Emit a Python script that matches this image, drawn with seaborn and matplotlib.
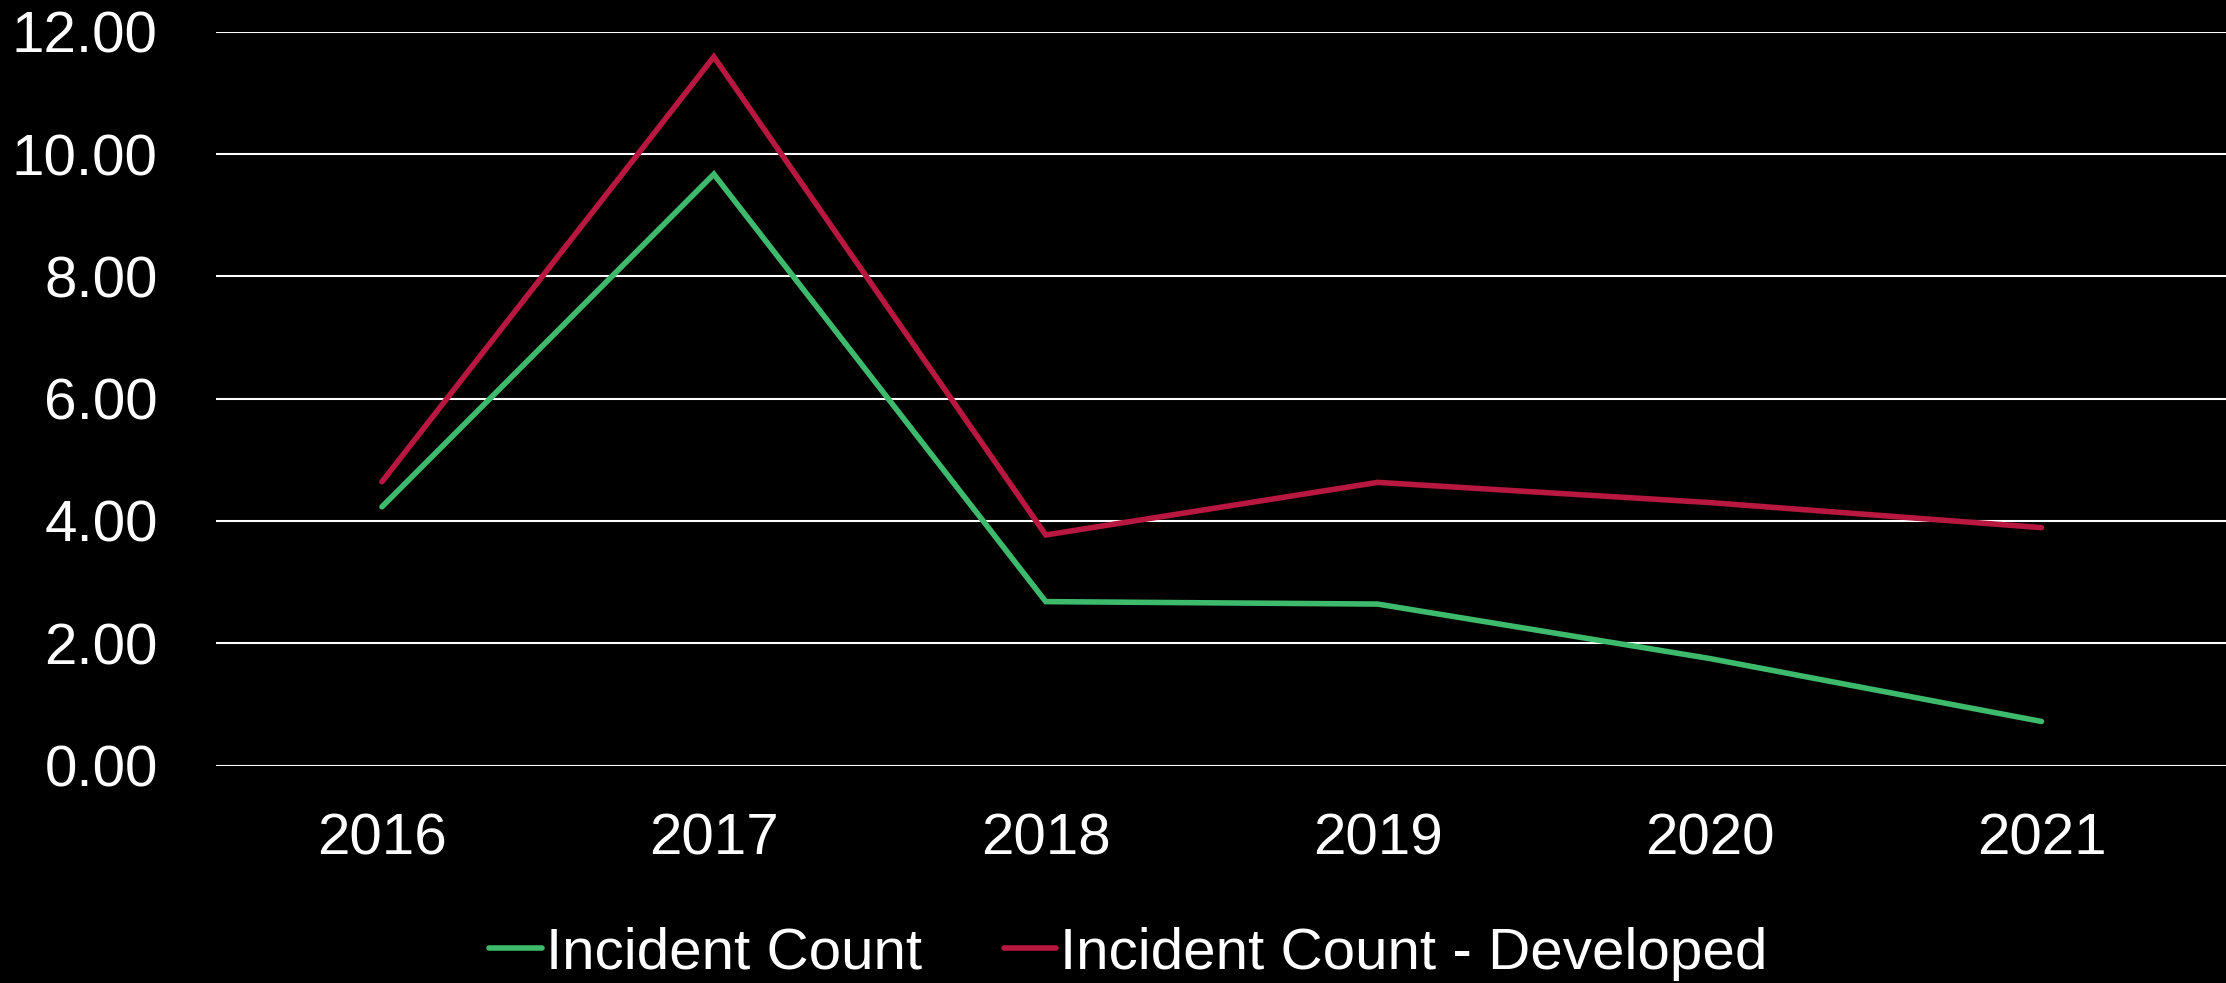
import matplotlib
matplotlib.use("Agg")
import matplotlib.pyplot as plt
import seaborn as sns
import pandas as pd
from matplotlib.lines import Line2D

years = ["2016", "2017", "2018", "2019", "2020", "2021"]
incident_count = [4.23, 9.67, 2.68, 2.64, 1.75, 0.72]
incident_count_developed = [4.64, 11.59, 3.77, 4.63, 4.30, 3.89]
series_names = ["Incident Count", "Incident Count - Developed"]
y_ticks = [0, 2, 4, 6, 8, 10, 12]
colors = ["#3dba6c", "#b8173f"]

df = pd.DataFrame({
    "year": years * 2,
    "value": incident_count + incident_count_developed,
    "series": [series_names[0]] * len(years) + [series_names[1]] * len(years),
})

sns.set_theme(style="dark")
plt.rcParams["font.family"] = ["Liberation Sans", "DejaVu Sans"]
fs = 42

fig = plt.figure(figsize=(22.26, 9.83), dpi=100, facecolor="black")
ax = fig.add_axes([216 / 2226, (983 - 765.5) / 983, 1 - 216 / 2226, (765.5 - 31.7) / 983])
ax.set_facecolor("black")

sns.lineplot(data=df, x="year", y="value", hue="series", palette=colors,
             linewidth=4.0, ax=ax, sort=False, legend=False,
             solid_capstyle="round", solid_joinstyle="miter")

ax.set_xlim(-0.5, 5.556)
ax.set_ylim(0, 12)
ax.set_yticks(y_ticks)
ax.set_yticklabels([f"{v:.2f}" for v in y_ticks])
ax.grid(axis="y", color="white", linewidth=1.5)
ax.grid(axis="x", visible=False)
ax.set_axisbelow(True)
for s in ax.spines.values():
    s.set_visible(False)
ax.set_xlabel("")
ax.set_ylabel("")
ax.tick_params(axis="x", colors="white", labelsize=fs, length=0, pad=34)
ax.tick_params(axis="y", colors="white", labelsize=fs, length=0, pad=42)

handles = [Line2D([0], [0], color=c, linewidth=4.0, solid_capstyle="round") for c in colors]
fig.legend(handles, series_names, loc="center", bbox_to_anchor=(0.507, 0.030),
           ncol=2, frameon=False, fontsize=fs, labelcolor="white",
           handlelength=0.9, handletextpad=0.07, columnspacing=1.4, borderpad=0)

fig.savefig("out.png", dpi=100, facecolor="black")
